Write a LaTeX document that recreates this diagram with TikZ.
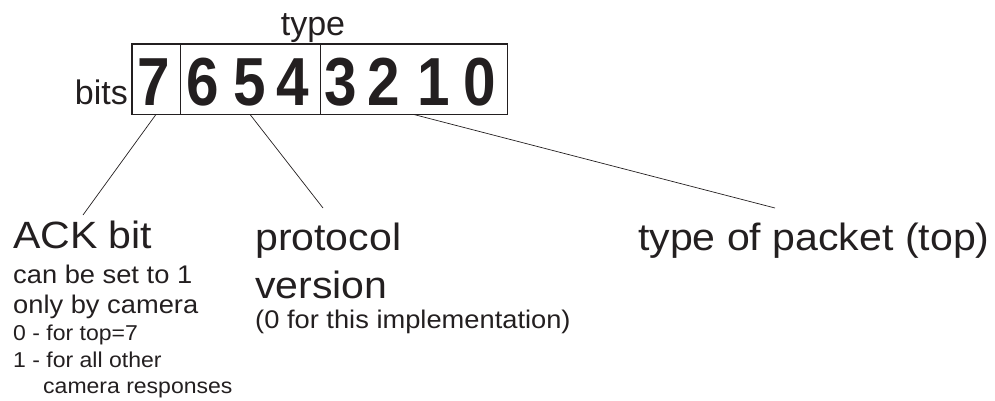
\documentclass[tikz,border=0pt]{standalone}
\usepackage{fontspec}
\setmainfont{Liberation Sans}
\usepackage{xcolor}
\definecolor{ink}{HTML}{231F20}
\usetikzlibrary{positioning}

\begin{document}
\begin{tikzpicture}[x=1pt, y=-1pt, color=ink,
    field/.style={draw, line width=0.8pt, minimum height=70pt, inner sep=0pt},
    digit/.style={anchor=base, inner sep=0pt, xscale=0.86, font=\bfseries\fontsize{68}{70}\selectfont},
    biglbl/.style={anchor=base west, inner sep=0pt, xscale=1.08, font=\fontsize{38}{40}\selectfont},
    midlbl/.style={anchor=base west, inner sep=0pt, xscale=1.07, font=\fontsize{25.5}{28}\selectfont},
    smalllbl/.style={anchor=base west, inner sep=0pt, xscale=1.07, font=\fontsize{21.5}{24}\selectfont},
    wire/.style={line width=0.7pt}]
    \useasboundingbox (0,0) rectangle (995,400);

    % Bit fields of the byte
    \node[field, minimum width=48pt] (ackf) at (156,79) {};
    \node[field, minimum width=140pt] (verf) at (250,79) {};
    \node[field, minimum width=187pt] (topf) at (413.5,79) {};
    \draw[line width=1.6pt] (ackf.north west) rectangle (topf.south east);

    % Bit numbers
    \foreach \b/\x in {7/154, 6/203, 5/250, 4/293, 3/341, 2/384, 1/434, 0/480} {
        \node[digit] (bit\b) at (\x,105) {\b};
    }

    \node[anchor=base, inner sep=0pt, font=\fontsize{34}{36}\selectfont] (typelbl) at (313,35) {type};
    \node[anchor=base east, inner sep=0pt, font=\fontsize{34}{36}\selectfont] (bitslbl) at (128,104) {bits};

    % ACK bit
    \node[biglbl] (ack) at (13,248) {ACK bit};
    \node[midlbl] (ack1) at (13,283) {can be set to 1};
    \node[midlbl] (ack2) at (13,313) {only by camera};
    \node[smalllbl] (ack3) at (13,340) {0 - for top=7};
    \node[smalllbl] (ack4) at (13,367) {1 - for all other};
    \node[smalllbl] (ack5) at (43,393) {camera responses};

    % Protocol version
    \node[biglbl] (ver) at (255,250) {protocol};
    \node[biglbl] (ver1) at (255,298) {version};
    \node[midlbl] (ver2) at (255,328) {(0 for this implementation)};

    % Type of packet
    \node[biglbl] (top) at (638,250) {type of packet (top)};

    % Connectors
    \coordinate (ackend) at (83,215);
    \coordinate (verend) at (323,208);
    \coordinate (topend) at (775,208);
    \draw[wire] (ackf.south) -- (ackend);
    \draw[wire] (verf.south) -- (verend);
    \draw[wire] (topf.south) -- (topend);
\end{tikzpicture}
\end{document}
